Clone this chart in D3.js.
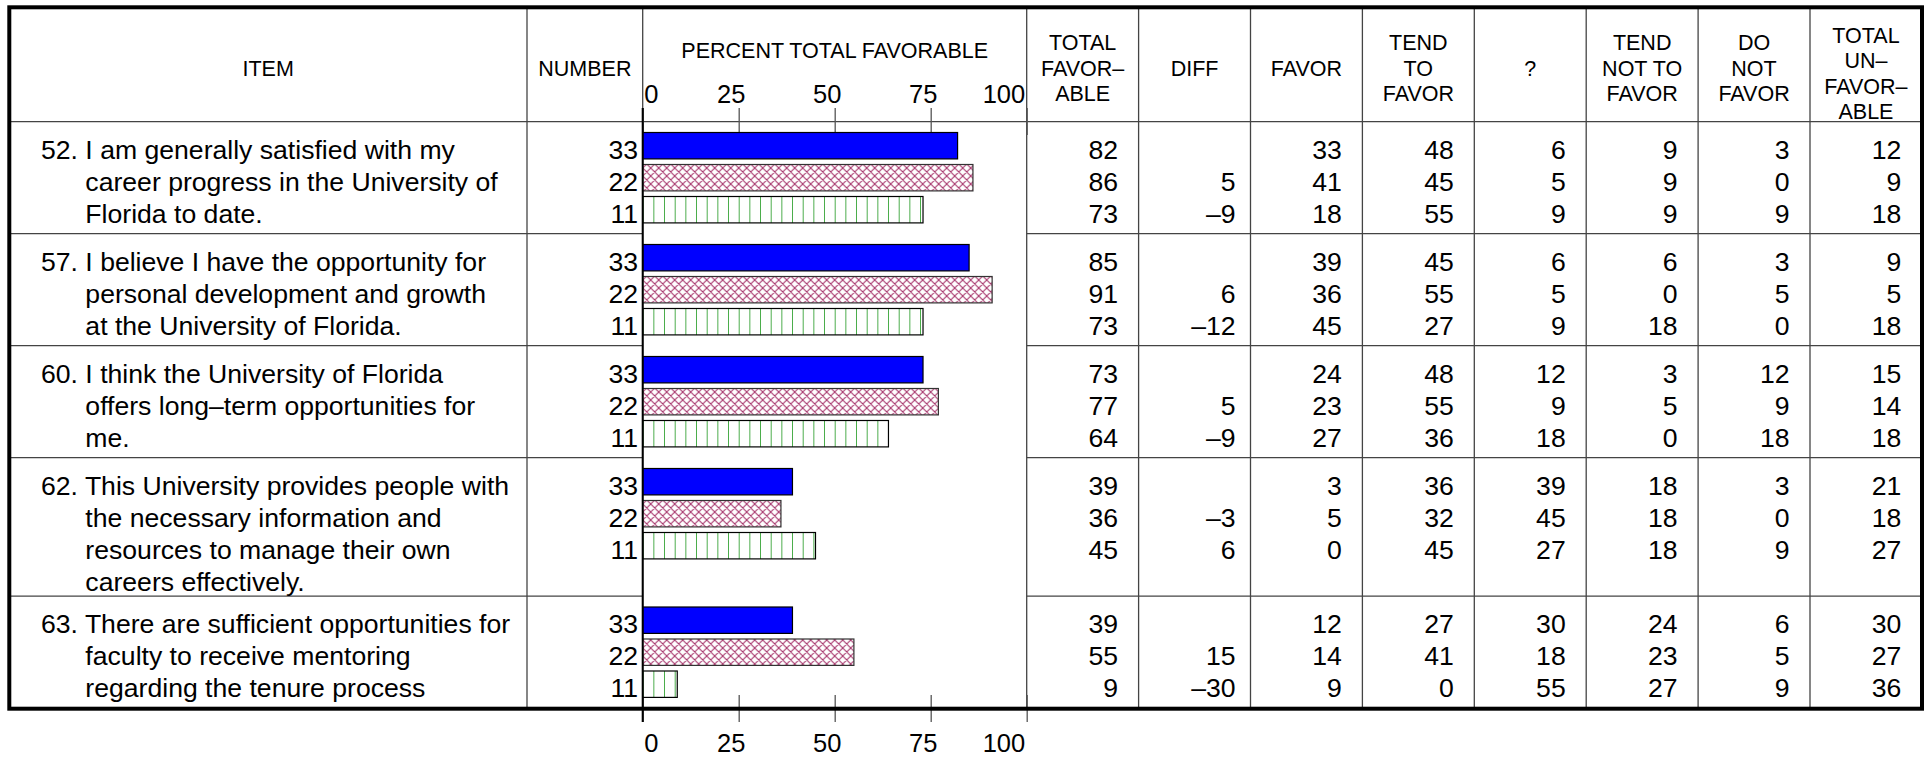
<!DOCTYPE html>
<html>
<head>
<meta charset="utf-8">
<script src="https://cdn.jsdelivr.net/npm/d3@7"></script>
<style>
  html, body { margin: 0; padding: 0; background: #fff; }
  svg { display: block; font-family: "Liberation Sans", Arial, Helvetica, sans-serif; }
</style>
</head>
<body>
<svg id="chart" width="1931" height="758"></svg>
<script>
// ---------------- DATA ----------------
const items = [
  ["52. I am generally satisfied with my", "career progress in the University of", "Florida to date."],
  ["57. I believe I have the opportunity for", "personal development and growth", "at the University of Florida."],
  ["60. I think the University of Florida", "offers long\u2013term opportunities for", "me."],
  ["62. This University provides people with", "the necessary information and", "resources to manage their own", "careers effectively."],
  ["63. There are sufficient opportunities for", "faculty to receive mentoring", "regarding the tenure process"]
];
const itemNumbers = ["52. ", "57. ", "60. ", "62. ", "63. "];
const respondentCounts = [33, 22, 11];
const seriesNames = ["s33", "s22", "s11"];

const totalFavorable   = [[82, 86, 73], [85, 91, 73], [73, 77, 64], [39, 36, 45], [39, 55, 9]];
const diff             = [[null, 5, -9], [null, 6, -12], [null, 5, -9], [null, -3, 6], [null, 15, -30]];
const favor            = [[33, 41, 18], [39, 36, 45], [24, 23, 27], [3, 5, 0], [12, 14, 9]];
const tendToFavor      = [[48, 45, 55], [45, 55, 27], [48, 55, 36], [36, 32, 45], [27, 41, 0]];
const unsure           = [[6, 5, 9], [6, 5, 9], [12, 9, 18], [39, 45, 27], [30, 18, 55]];
const tendNotToFavor   = [[9, 9, 9], [6, 0, 18], [3, 5, 0], [18, 18, 18], [24, 23, 27]];
const doNotFavor       = [[3, 0, 9], [3, 5, 0], [12, 9, 18], [3, 0, 9], [6, 5, 9]];
const totalUnfavorable = [[12, 9, 18], [9, 5, 18], [15, 14, 18], [21, 18, 27], [30, 27, 36]];

const axisTicks = [0, 25, 50, 75, 100];
const chartTitle = "PERCENT TOTAL FAVORABLE";
const itemHeader = ["ITEM"];
const numberHeader = ["NUMBER"];
const columnHeaders = [
  ["TOTAL", "FAVOR\u2013", "ABLE"],
  ["DIFF"],
  ["FAVOR"],
  ["TEND", "TO", "FAVOR"],
  ["?"],
  ["TEND", "NOT TO", "FAVOR"],
  ["DO", "NOT", "FAVOR"],
  ["TOTAL", "UN\u2013", "FAVOR\u2013", "ABLE"]
];
const columnValues = [totalFavorable, diff, favor, tendToFavor, unsure, tendNotToFavor, doNotFavor, totalUnfavorable];

// ---------------- LAYOUT ----------------
const L = {
  left: 9.3, top: 7.3, right: 1922, bottom: 708.7,
  itemSep: 527, chartLeft: 642.7, chartRight: 1026.7,
  colW: 111.9, headerBottom: 121.7,
  lineStep: 32, firstBase: 37, barTop: 10.8, barH: 26.4,
  itemX: 41, numX: 638,
  textFont: 26.6, headFont: 21.5, axisFont: 25.5, headLine: 25.3
};
const gridColor = "#444";
const fmt = v => v == null ? "" : (v < 0 ? "\u2013" + Math.abs(v) : String(v));

const svg = d3.select("#chart");
const defs = svg.append("defs");

// patterns
const ph = defs.append("pattern").attr("id", "hatch").attr("patternUnits", "userSpaceOnUse")
  .attr("width", 8).attr("height", 8).attr("x", L.chartLeft);
ph.append("rect").attr("width", 8).attr("height", 8).attr("fill", "#fff");
ph.append("path").attr("d", "M0,0 L8,8 M8,0 L0,8 M-1,7 L1,9 M7,-1 L9,1 M-1,1 L1,-1 M7,9 L9,7")
  .attr("stroke", "#a8386e").attr("stroke-width", 1.1).attr("fill", "none");
const pv = defs.append("pattern").attr("id", "vlines").attr("patternUnits", "userSpaceOnUse")
  .attr("width", 384 / 36).attr("height", 40).attr("x", L.chartLeft);
pv.append("rect").attr("width", 384 / 36).attr("height", 40).attr("fill", "#fff");
pv.append("line").attr("x1", 0).attr("x2", 0).attr("y1", 0).attr("y2", 40)
  .attr("stroke", "#008a00").attr("stroke-width", 1.4);
const fills = ["#0000ff", "url(#hatch)", "url(#vlines)"];
const outlines = ["#000", "#333", "#000"];

const x = d3.scaleLinear().domain([0, 100]).range([L.chartLeft, L.chartRight]);

// group geometry
const groupTops = [];
let yy = L.headerBottom;
items.forEach((lines) => {
  groupTops.push(yy);
  yy += Math.max(112, L.firstBase + L.lineStep * (lines.length - 1) + 5.5);
});
groupTops.push(yy);

const colX = d => L.chartRight + L.colW * d;

// ---------------- GRID LINES ----------------
const grid = svg.append("g").attr("stroke", gridColor).attr("stroke-width", 1.3);
grid.append("line").attr("x1", L.left).attr("x2", L.right).attr("y1", L.headerBottom).attr("y2", L.headerBottom);
groupTops.slice(1, -1).forEach(t => {
  grid.append("line").attr("x1", L.left).attr("x2", L.chartLeft).attr("y1", t).attr("y2", t);
  grid.append("line").attr("x1", L.chartRight).attr("x2", L.right).attr("y1", t).attr("y2", t);
});
const vx = [L.itemSep, L.chartLeft, L.chartRight];
for (let k = 1; k < 8; k++) vx.push(colX(k));
vx.forEach(v => grid.append("line").attr("x1", v).attr("x2", v).attr("y1", L.top).attr("y2", L.bottom));

// ---------------- HEADERS ----------------
function headerText(lines, cx) {
  const n = lines.length;
  const cy = n >= 4 ? 73.5 : 68;
  lines.forEach((s, i) => {
    svg.append("text").attr("x", cx).attr("y", cy + (i - (n - 1) / 2) * L.headLine + 7.6)
      .attr("text-anchor", "middle").attr("font-size", L.headFont).text(s);
  });
}
headerText(itemHeader, (L.left + L.itemSep) / 2);
headerText(numberHeader, (L.itemSep + L.chartLeft) / 2);
columnHeaders.forEach((h, k) => headerText(h, colX(k) + L.colW / 2));
svg.append("text").attr("x", (L.chartLeft + L.chartRight) / 2).attr("y", 58)
  .attr("text-anchor", "middle").attr("font-size", L.headFont).text(chartTitle);

// ---------------- AXES ----------------
function styleAxis(g) {
  g.select(".domain").remove();
  g.selectAll(".tick line").attr("stroke", "#555").attr("stroke-width", 1.3);
  g.selectAll(".tick text").attr("font-size", L.axisFont).attr("fill", "#000")
    .attr("font-family", "Liberation Sans, Arial, sans-serif")
    .attr("text-anchor", d => d === 0 ? "start" : (d === 100 ? "end" : "middle"))
    .attr("dx", d => d === 0 ? 1 : (d === 100 ? -2 : -8));
}
const topAxis = d3.axisTop(x).tickValues(axisTicks).tickSize(27).tickPadding(4.7).tickSizeOuter(0);
svg.append("g").attr("transform", "translate(0,135)").call(topAxis).call(styleAxis);
const botAxis = d3.axisBottom(x).tickValues(axisTicks).tickSize(27).tickPadding(11.5).tickSizeOuter(0);
svg.append("g").attr("transform", "translate(0,695)").call(botAxis).call(styleAxis);

// ---------------- BODY ----------------
items.forEach((lines, gi) => {
  const gt = groupTops[gi];
  const probe = svg.append("text").attr("font-size", L.textFont).style("white-space", "pre").text(itemNumbers[gi]);
  const indent = probe.node().getComputedTextLength();
  probe.remove();
  lines.forEach((s, li) => {
    svg.append("text").attr("x", li === 0 ? L.itemX : L.itemX + indent)
      .attr("y", gt + L.firstBase + L.lineStep * li)
      .attr("font-size", L.textFont).text(s);
  });
  respondentCounts.forEach((n, ri) => {
    const base = gt + L.firstBase + L.lineStep * ri;
    svg.append("text").attr("x", L.numX).attr("y", base).attr("text-anchor", "end")
      .attr("font-size", L.textFont).text(n);
    svg.append("rect").attr("class", "bar " + seriesNames[ri])
      .attr("x", x(0)).attr("y", gt + L.barTop + L.lineStep * ri)
      .attr("width", x(totalFavorable[gi][ri]) - x(0)).attr("height", L.barH)
      .attr("fill", fills[ri]).attr("stroke", outlines[ri]).attr("stroke-width", 1.2);
    columnValues.forEach((arr, ci) => {
      const pad = ci === 1 ? 15 : 20.5;
      svg.append("text").attr("x", colX(ci + 1) - pad).attr("y", base)
        .attr("text-anchor", "end").attr("font-size", L.textFont).text(fmt(arr[gi][ri]));
    });
  });
});
// zero axis line above bars
svg.append("line").attr("x1", x(0)).attr("x2", x(0)).attr("y1", 108).attr("y2", 722)
  .attr("stroke", "#000").attr("stroke-width", 2);

// outer border
svg.append("rect").attr("x", L.left).attr("y", L.top)
  .attr("width", L.right - L.left).attr("height", L.bottom - L.top)
  .attr("fill", "none").attr("stroke", "#000").attr("stroke-width", 4);
</script>
</body>
</html>
